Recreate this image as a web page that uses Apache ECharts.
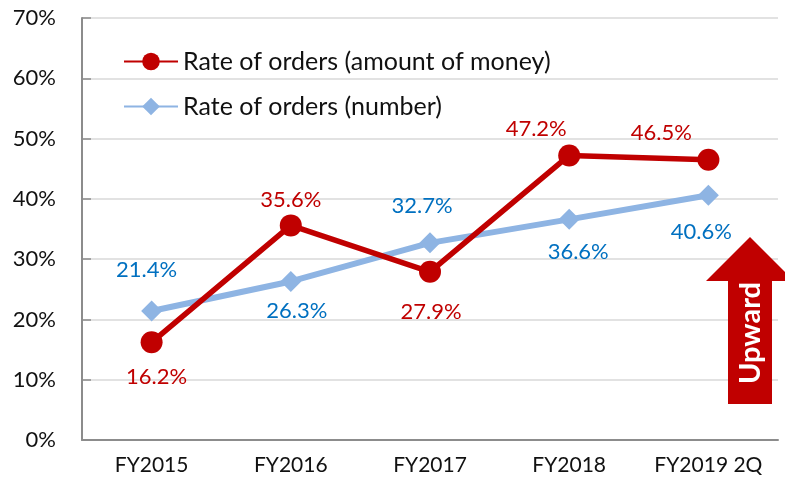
<!DOCTYPE html>
<html>
<head>
<meta charset="utf-8">
<script src="https://cdn.jsdelivr.net/npm/echarts@6/dist/echarts.min.js"></script>
<style>
  html, body { margin: 0; padding: 0; background: #fff; }
</style>
</head>
<body>
<div id="ordersChart" style="width: 785px; height: 492px;"></div>
<script>
// data
const categories = ['FY2015', 'FY2016', 'FY2017', 'FY2018', 'FY2019 2Q']
const moneyRate = [16.2, 35.6, 27.9, 47.2, 46.5]
const numberRate = [21.4, 26.3, 32.7, 36.6, 40.6]
const yTicks = [0, 10, 20, 30, 40, 50, 60, 70]

// where each value label sits relative to its point (px)
const moneyLabelOffset = [[5, 35], [0, -25], [1, 40], [-33, -27], [-47, -27]]
const numberLabelOffset = [[-5, -41], [6, 29], [-8, -37], [9, 33], [-7, 37]]

const RED = '#C00000'
const BLUE = '#8EB4E3'
const FONT = 'Lato, "Open Sans", sans-serif'

const chart = echarts.init(document.getElementById('ordersChart'))

function withLabels(values, offsets, color) {
  return values.map((v, i) => ({
    value: v,
    label: {
      show: true,
      position: 'inside',
      offset: offsets[i],
      color: color,
      fontSize: 22,
      fontFamily: FONT,
      formatter: p => p.value.toFixed(1) + '%'
    }
  }))
}

chart.setOption({
  animation: false,
  grid: { left: 82, right: 7, top: 18, bottom: 52 },
  legend: {
    orient: 'vertical',
    left: 118,
    top: 44,
    itemWidth: 54,
    itemHeight: 22,
    itemGap: 20,
    textStyle: { fontSize: 25, fontFamily: FONT, color: '#111' },
    data: ['Rate of orders (amount of money)', 'Rate of orders (number)']
  },
  xAxis: {
    type: 'category',
    data: categories,
    boundaryGap: true,
    axisLine: { lineStyle: { color: '#8c8c8c', width: 2 } },
    axisTick: { inside: true, length: 9, lineStyle: { color: '#8c8c8c', width: 1.5 } },
    axisLabel: { interval: 0, fontSize: 21, fontFamily: FONT, color: '#111', margin: 15 }
  },
  yAxis: {
    type: 'value',
    min: yTicks[0],
    max: yTicks[yTicks.length - 1],
    interval: 10,
    axisLine: { show: true, lineStyle: { color: '#8c8c8c', width: 2 } },
    axisTick: { show: true, inside: true, length: 9, lineStyle: { color: '#8c8c8c', width: 1.5 } },
    splitLine: { lineStyle: { color: '#d9d9d9', width: 1.5 } },
    axisLabel: { fontSize: 22, fontFamily: FONT, color: '#111', margin: 26, formatter: '{value}%' }
  },
  series: [
    {
      name: 'Rate of orders (amount of money)',
      type: 'line',
      data: withLabels(moneyRate, moneyLabelOffset, RED),
      symbol: 'circle',
      symbolSize: 22,
      z: 3,
      lineStyle: { color: RED, width: 5.5 },
      itemStyle: { color: RED }
    },
    {
      name: 'Rate of orders (number)',
      type: 'line',
      data: withLabels(numberRate, numberLabelOffset, '#0070C0'),
      symbol: 'diamond',
      symbolSize: 21,
      z: 2,
      lineStyle: { color: BLUE, width: 6 },
      itemStyle: { color: BLUE }
    }
  ],
  graphic: [
    {
      type: 'polygon',
      z: 10,
      shape: {
        points: [[750, 237], [794, 281], [772, 281], [772, 404], [728, 404], [728, 281], [706, 281]]
      },
      style: { fill: RED }
    },
    {
      type: 'text',
      z: 11,
      x: 751,
      y: 333,
      rotation: Math.PI / 2,
      style: {
        text: 'Upward',
        fill: '#fff',
        font: 'bold 29px ' + FONT,
        textAlign: 'center',
        textVerticalAlign: 'middle'
      }
    }
  ]
})
</script>
</body>
</html>
